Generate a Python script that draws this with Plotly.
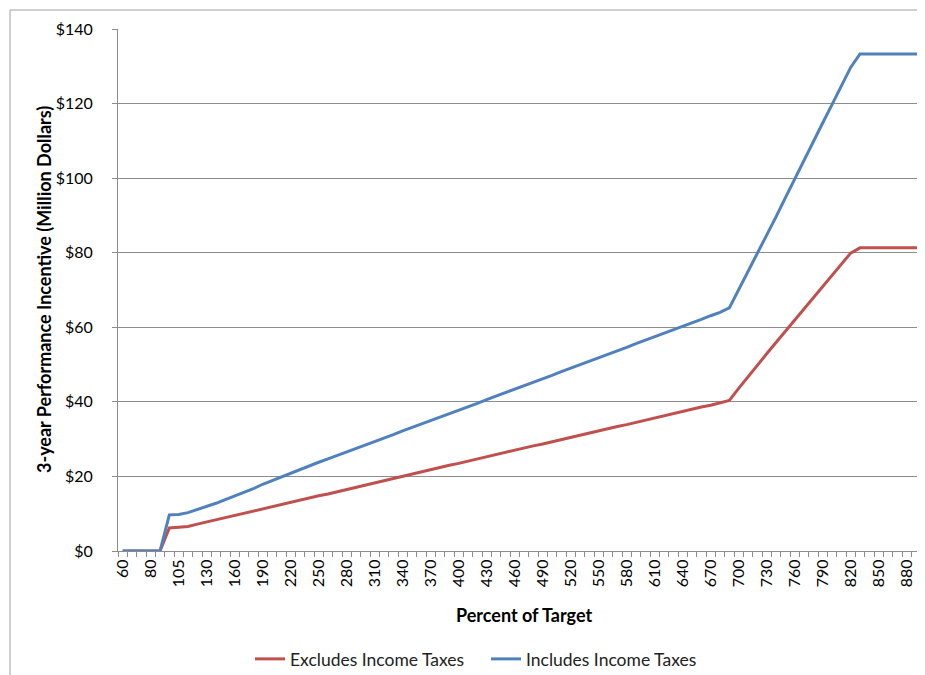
import plotly.graph_objects as go

# Categories (Percent of Target)
categories = [60, 70, 75, 80, 90, 100, 105, 110, 120, 130,
              140, 150, 160, 170, 180, 190, 200, 210, 220, 230,
              240, 250, 260, 270, 280, 290, 300, 310, 320, 330,
              340, 350, 360, 370, 380, 390, 400, 410, 420, 430,
              440, 450, 460, 470, 480, 490, 500, 510, 520, 530,
              540, 550, 560, 570, 580, 590, 600, 610, 620, 630,
              640, 650, 660, 670, 680, 690, 700, 710, 720, 730,
              740, 750, 760, 770, 780, 790, 800, 810, 820, 830,
              840, 850, 860, 870, 880, 890, 900]

# Labeled categories on the x axis
tick_labels = [60, 80, 105, 130, 160, 190, 220, 250, 280, 310, 340, 370, 400,
               430, 460, 490, 520, 550, 580, 610, 640, 670, 700, 730, 760, 790,
               820, 850, 880]

# Excludes Income Taxes (million $)
excludes = [0, 0, 0, 0, 0, 6.2, 6.4, 6.6, 7.2, 7.8,
            8.3, 8.9, 9.5, 10.1, 10.6, 11.3, 11.9, 12.4, 13.0, 13.6,
            14.2, 14.8, 15.3, 15.9, 16.6, 17.2, 17.8, 18.3, 18.9, 19.5,
            20.1, 20.7, 21.2, 21.8, 22.4, 23.0, 23.5, 24.1, 24.7, 25.3,
            25.9, 26.4, 27.0, 27.6, 28.2, 28.7, 29.3, 29.9, 30.5, 31.1,
            31.6, 32.2, 32.8, 33.4, 33.9, 34.5, 35.1, 35.7, 36.3, 36.8,
            37.4, 38.0, 38.6, 39.1, 39.7, 40.4, 43.6, 46.8, 49.9, 52.9,
            55.9, 58.9, 61.9, 64.9, 67.9, 70.9, 73.9, 76.9, 79.9, 81.3,
            81.3, 81.3, 81.3, 81.3, 81.3, 81.3, 81.3]

# Includes Income Taxes (million $)
includes = [0, 0, 0, 0, 0, 9.7, 9.8, 10.3, 11.1, 11.9,
            12.8, 13.8, 14.7, 15.8, 16.7, 17.9, 18.9, 20.0, 20.9, 21.9,
            22.8, 23.8, 24.7, 25.6, 26.6, 27.5, 28.4, 29.3, 30.3, 31.2,
            32.2, 33.1, 34.0, 35.0, 35.9, 36.8, 37.8, 38.7, 39.6, 40.6,
            41.5, 42.5, 43.4, 44.3, 45.3, 46.2, 47.1, 48.1, 49.0, 50.0,
            50.9, 51.8, 52.8, 53.7, 54.6, 55.6, 56.5, 57.5, 58.4, 59.3,
            60.3, 61.2, 62.1, 63.1, 64.0, 65.2, 70.0, 74.8, 79.8, 84.8,
            89.6, 94.7, 99.8, 104.8, 109.8, 114.8, 119.7, 124.6, 129.7, 133.3,
            133.3, 133.3, 133.3, 133.3, 133.3, 133.3, 133.3]

cat_str = [str(c) for c in categories]
label_set = set(tick_labels)
tick_text = [str(c) if c in label_set else "" for c in categories]

FONT = "Lato, Carlito, Calibri, sans-serif"
GRID = "#8c8c8c"

fig = go.Figure()
fig.add_trace(go.Scatter(x=cat_str, y=excludes, mode="lines",
                         name="Excludes Income Taxes",
                         line=dict(color="#C0504D", width=3)))
fig.add_trace(go.Scatter(x=cat_str, y=includes, mode="lines",
                         name="Includes Income Taxes",
                         line=dict(color="#4F81BD", width=3)))

L, R, T, B = 110, 3, 21, 132
W, H = 925, 675
pw, ph = W - L - R, H - T - B

def px(x):
    return (x - L) / pw

def py(y):
    return (H - B - y) / ph

fig.update_layout(
    width=W, height=H,
    margin=dict(l=L, r=R, t=T, b=B),
    paper_bgcolor="white", plot_bgcolor="white",
    font=dict(family=FONT, size=15, color="#000000"),
    showlegend=True,
    legend=dict(orientation="h", x=px(242), xanchor="left",
                y=py(651), yanchor="middle",
                font=dict(size=17.5, color="#222222"), itemwidth=30,
                entrywidth=191, entrywidthmode="pixels",
                traceorder="normal"),
    xaxis=dict(type="category", categoryorder="array", categoryarray=cat_str,
               range=[-0.5, len(cat_str) - 0.5],
               tickmode="array", tickvals=cat_str, ticktext=tick_text,
               tickangle=-90, tickson="boundaries", ticks="outside",
               ticklen=5, tickcolor=GRID, showgrid=False,
               showline=True, linecolor=GRID, linewidth=1,
               tickfont=dict(size=16), zeroline=False,
               ticklabelstandoff=1),
    yaxis=dict(range=[0, 140], dtick=20, tickprefix="$",
               showgrid=True, gridcolor=GRID, gridwidth=1,
               showline=True, linecolor=GRID, linewidth=1,
               ticks="outside", ticklen=5, tickcolor=GRID,
               tickfont=dict(size=16), zeroline=False,
               ticklabelstandoff=16),
    annotations=[
        dict(text="<b>Percent of Target</b>", xref="paper", yref="paper",
             x=0.5, y=py(607), xanchor="center", yanchor="middle",
             showarrow=False, font=dict(size=18)),
        dict(text="<b>3-year Performance Incentive (Million Dollars)</b>",
             xref="paper", yref="paper", x=px(36), y=py(282),
             xanchor="center", yanchor="middle", textangle=-90,
             showarrow=False, font=dict(size=18)),
    ],
    shapes=[
        dict(type="rect", xref="paper", yref="paper",
             x0=px(2), x1=px(923), y0=py(672), y1=py(2),
             line=dict(color="#a0a0a0", width=1), layer="below"),
    ],
)

fig.write_html("out.html")
